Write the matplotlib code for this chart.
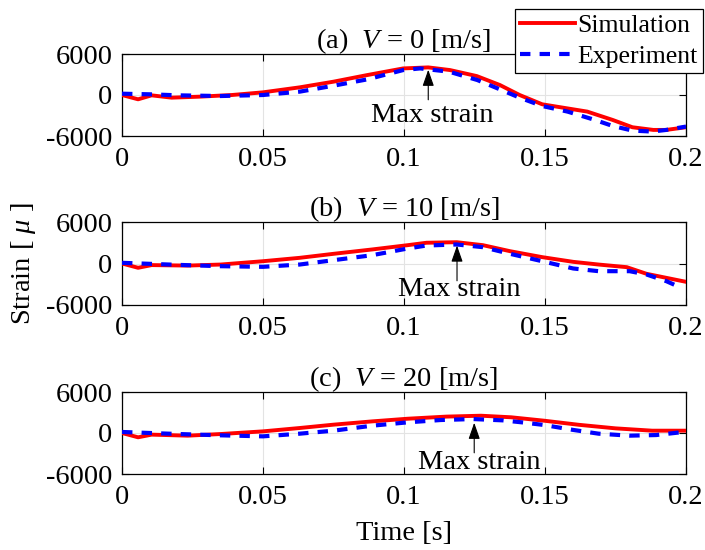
import matplotlib
matplotlib.use("Agg")
import matplotlib.pyplot as plt

plt.rcParams['font.family'] = ['Liberation Serif', 'DejaVu Serif']
plt.rcParams['mathtext.fontset'] = 'custom'
plt.rcParams['mathtext.rm'] = 'Liberation Serif'
plt.rcParams['mathtext.it'] = 'Liberation Serif:italic'
plt.rcParams['axes.unicode_minus'] = False

# ---------------- data ----------------
titles = ["(a)  $V$ = 0 [m/s]", "(b)  $V$ = 10 [m/s]", "(c)  $V$ = 20 [m/s]"]
series_labels = ["Simulation", "Experiment"]
xtick_vals = [0, 0.05, 0.1, 0.15, 0.2]
xtick_labels = ["0", "0.05", "0.1", "0.15", "0.2"]
ytick_vals = [-6000, 0, 6000]
ytick_labels = ["-6000", "0", "6000"]

t_sim_a = [0, 0.0057, 0.0105, 0.0176, 0.0277, 0.039, 0.05, 0.063, 0.075, 0.087, 0.0997, 0.1086,
           0.1163, 0.1258, 0.134, 0.141, 0.149, 0.1578, 0.165, 0.174, 0.181, 0.1884, 0.193, 0.2]
s_sim_a = [0, -630, -50, -390, -240, 0, 390, 1120, 1950, 2920, 3890, 4040,
           3650, 2770, 1460, 0, -1360, -1950, -2430, -3650, -4720, -5110, -5110, -4720]
t_exp_a = [0, 0.01, 0.02, 0.035, 0.05, 0.063, 0.075, 0.087, 0.0997, 0.1057, 0.116, 0.126,
           0.134, 0.141, 0.149, 0.158, 0.1677, 0.174, 0.181, 0.188, 0.193, 0.2]
s_exp_a = [190, 100, -50, -150, 0, 490, 1360, 2290, 3650, 3890, 3410, 2190,
           830, -390, -1610, -2430, -3650, -4530, -5210, -5350, -5110, -4620]

t_sim_b = [0, 0.0057, 0.0105, 0.0233, 0.035, 0.05, 0.063, 0.075, 0.0887, 0.1013, 0.108,
           0.1187, 0.128, 0.1376, 0.149, 0.16, 0.169, 0.179, 0.186, 0.193, 0.2]
s_sim_b = [0, -620, -230, -300, -150, 330, 820, 1400, 2030, 2650, 3000,
           3080, 2650, 1780, 920, 240, -150, -530, -1490, -2070, -2650]
t_exp_b = [0, 0.02, 0.035, 0.05, 0.063, 0.075, 0.0887, 0.1013, 0.108, 0.1187, 0.128,
           0.1376, 0.149, 0.16, 0.169, 0.18, 0.186, 0.193, 0.197]
s_exp_b = [100, -200, -390, -480, -150, 480, 1200, 2170, 2600, 2750, 2360,
           1400, 330, -720, -1110, -1110, -1590, -2550, -3280]

t_sim_c = [0, 0.0057, 0.0105, 0.0233, 0.035, 0.05, 0.063, 0.075, 0.0887, 0.1013, 0.115,
           0.1273, 0.138, 0.1497, 0.162, 0.175, 0.188, 0.2]
s_sim_c = [0, -630, -240, -390, -150, 240, 730, 1220, 1700, 2090, 2400,
           2530, 2300, 1800, 1200, 680, 340, 340]
t_exp_c = [0, 0.02, 0.035, 0.05, 0.063, 0.075, 0.0887, 0.1013, 0.113, 0.1245, 0.135,
           0.142, 0.1497, 0.16, 0.169, 0.18, 0.1894, 0.2]
s_exp_c = [150, -150, -340, -490, -100, 340, 1070, 1560, 1900, 2040, 1850,
           1550, 1170, 450, -100, -390, -300, 190]

# max strain annotations: (tip_t, tip_s, tail_s, text_t, text_s)
ann_a = (0.1086, 3700, -700, 0.1099, -3000)
ann_b = (0.1188, 2600, -2500, 0.1195, -3750)
ann_c = (0.1249, 1500, -2900, 0.1266, -4250)

sims = [(t_sim_a, s_sim_a), (t_sim_b, s_sim_b), (t_sim_c, s_sim_c)]
exps = [(t_exp_a, s_exp_a), (t_exp_b, s_exp_b), (t_exp_c, s_exp_c)]
anns = [ann_a, ann_b, ann_c]

# ---------------- figure ----------------
W, H = 705, 550
fig = plt.figure(figsize=(W / 100, H / 100), dpi=100)
FS = 20.5
LFS = 18.5

axes_px = [(54, 136), (222, 305), (392, 474)]
left_px, right_px = 122, 686
handles = None
for i, (top, bot) in enumerate(axes_px):
    ax = fig.add_axes([left_px / W, 1 - bot / H, (right_px - left_px) / W, (bot - top) / H])
    ax.grid(True, color='#e3e3e3', lw=0.8)
    ax.set_axisbelow(True)
    hs, = ax.plot(sims[i][0], sims[i][1], color='#ff0000', lw=2.8, label=series_labels[0],
                  solid_joinstyle='round', zorder=3)
    he, = ax.plot(exps[i][0], exps[i][1], color='#0000ff', lw=3.0, label=series_labels[1],
                  dashes=(2.5, 2.2), dash_capstyle='butt', zorder=4)
    if handles is None:
        handles = [hs, he]
    ax.set_xlim(0, 0.2)
    ax.set_ylim(-6000, 6000)
    ax.set_xticks(xtick_vals)
    ax.set_xticklabels(xtick_labels)
    ax.set_yticks(ytick_vals)
    ax.set_yticklabels(ytick_labels)
    ax.tick_params(direction='in', top=True, right=True, length=5, width=0.8,
                   labelsize=FS)
    ax.tick_params(axis='x', pad=8)
    ax.tick_params(axis='y', pad=7)
    for sp in ax.spines.values():
        sp.set_linewidth(0.9)
    ax.set_title(titles[i], fontsize=FS, pad=4)
    tip_t, tip_s, tail_s, txt_t, txt_s = anns[i]
    ax.annotate('', xy=(tip_t, tip_s), xytext=(tip_t, tail_s),
                arrowprops=dict(arrowstyle='-|>,head_length=1.0,head_width=0.35',
                                color='k', lw=0.8, shrinkA=0, shrinkB=0), zorder=6)
    ax.text(txt_t, txt_s, 'Max strain', fontsize=FS, ha='center', va='center', zorder=7)

fig.text(24 / W, 1 - 264 / H, 'Strain [ $\\mu$ ]', rotation=90, fontsize=FS,
         ha='center', va='center')
fig.text(404 / W, 1 - 533 / H, 'Time [s]', fontsize=FS, ha='center', va='center')

leg = fig.legend(handles, series_labels, loc='upper right',
                 bbox_to_anchor=(703 / W, 1 - 9 / H), fontsize=LFS,
                 frameon=True, fancybox=False, framealpha=1, edgecolor='k',
                 borderpad=0.2, handletextpad=0.1, labelspacing=0.3,
                 handlelength=2.15, borderaxespad=0)
leg.get_frame().set_linewidth(0.9)

fig.savefig('out.png', dpi=100)
